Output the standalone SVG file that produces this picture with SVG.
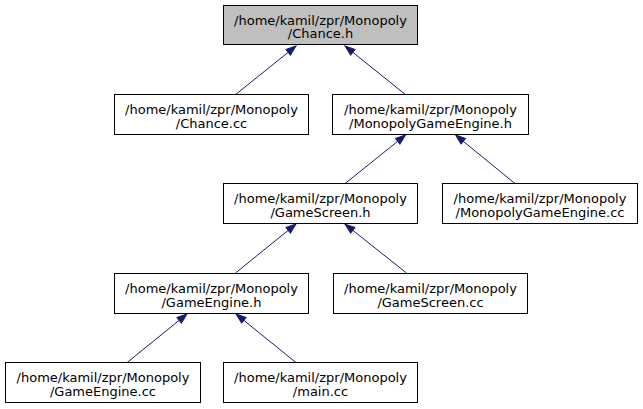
<svg xmlns="http://www.w3.org/2000/svg" width="643" height="409" viewBox="0 0 643 409">
<style>
.n rect{fill:#ffffff;stroke:#000000;stroke-width:1}
.n.root rect{fill:#bfbfbf}
.n text{font-family:"DejaVu Sans","Liberation Sans",sans-serif;font-size:13px;fill:#000000;text-anchor:middle}
.e path{fill:none;stroke:#191970;stroke-width:1;marker-end:url(#ah)}
</style>
<defs>
<marker id="ah" markerUnits="userSpaceOnUse" markerWidth="11" markerHeight="8" refX="0" refY="3.5" orient="auto" overflow="visible">
<path d="M0,0 L10,3.5 L0,7 Z" fill="#191970" stroke="#191970" stroke-width="1"/>
</marker>
</defs>
<rect width="643" height="409" fill="#ffffff"/>
<g id="edges" class="e">
<path d="M235,95 L288.2,52.3"/>
<path d="M406,95 L352.8,52.3"/>
<path d="M344.5,184 L397.7,141.3"/>
<path d="M515.5,184 L463.3,141.3"/>
<path d="M235.5,273 L288.2,230.3"/>
<path d="M406.5,273 L352.8,230.3"/>
<path d="M126.5,363 L179.2,320.3"/>
<path d="M296.5,363 L243.8,320.3"/>
</g>
<g id="chance_h" class="n root"><rect x="223.5" y="5.5" width="194" height="39"/><text x="320.5" y="24.5">/home/kamil/zpr/Monopoly</text><text x="320.5" y="38">/Chance.h</text></g>
<g id="chance_cc" class="n"><rect x="114.5" y="94.5" width="194" height="40"/><text x="211.5" y="114">/home/kamil/zpr/Monopoly</text><text x="211.5" y="127.5">/Chance.cc</text></g>
<g id="mge_h" class="n"><rect x="332.5" y="94.5" width="196" height="40"/><text x="430.5" y="114">/home/kamil/zpr/Monopoly</text><text x="430.5" y="127.5">/MonopolyGameEngine.h</text></g>
<g id="gamescreen_h" class="n"><rect x="223.5" y="183.5" width="194" height="40"/><text x="320.5" y="203">/home/kamil/zpr/Monopoly</text><text x="320.5" y="216.5">/GameScreen.h</text></g>
<g id="mge_cc" class="n"><rect x="442.5" y="183.5" width="195" height="40"/><text x="540" y="203">/home/kamil/zpr/Monopoly</text><text x="540" y="216.5">/MonopolyGameEngine.cc</text></g>
<g id="gameengine_h" class="n"><rect x="114.5" y="273.5" width="194" height="40"/><text x="211.5" y="293">/home/kamil/zpr/Monopoly</text><text x="211.5" y="306.5">/GameEngine.h</text></g>
<g id="gamescreen_cc" class="n"><rect x="333.5" y="273.5" width="194" height="40"/><text x="430.5" y="293">/home/kamil/zpr/Monopoly</text><text x="430.5" y="306.5">/GameScreen.cc</text></g>
<g id="gameengine_cc" class="n"><rect x="5.5" y="362.5" width="195" height="40"/><text x="103" y="382">/home/kamil/zpr/Monopoly</text><text x="103" y="395.5">/GameEngine.cc</text></g>
<g id="main_cc" class="n"><rect x="223.5" y="362.5" width="194" height="40"/><text x="320.5" y="382">/home/kamil/zpr/Monopoly</text><text x="320.5" y="395.5">/main.cc</text></g>
</svg>
